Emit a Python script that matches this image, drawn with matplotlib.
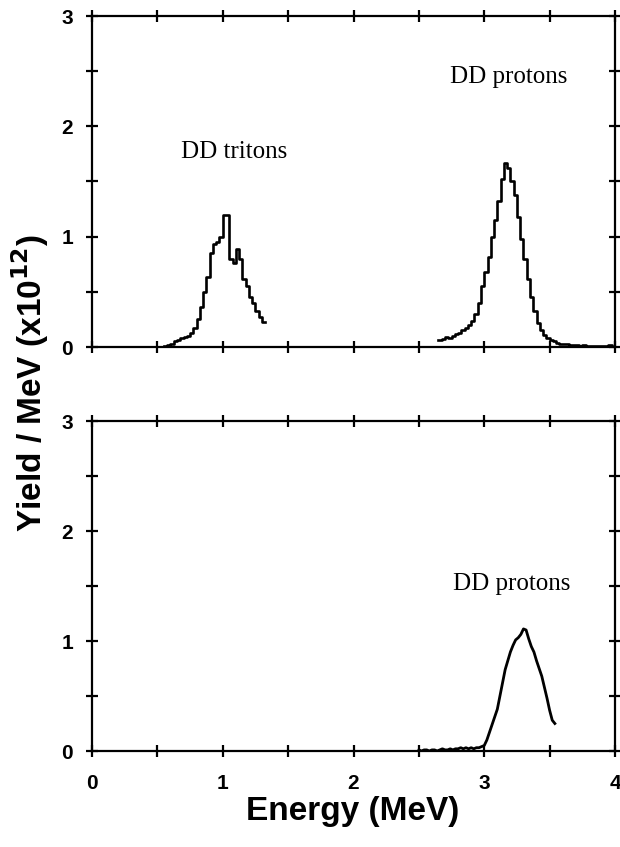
import matplotlib
matplotlib.use("Agg")
import matplotlib.pyplot as plt
from matplotlib.ticker import MultipleLocator

# Top panel: DD triton spectrum (left edge of each 0.025 MeV bin, yield in 1e12/MeV)
triton_e = [0.550, 0.575, 0.600, 0.625, 0.650, 0.675, 0.700, 0.725, 0.750, 0.775,
            0.800, 0.825, 0.850, 0.875, 0.900, 0.925, 0.950, 0.975, 1.000, 1.025,
            1.050, 1.075, 1.100, 1.125, 1.150, 1.175, 1.200, 1.225, 1.250, 1.275,
            1.300, 1.325]
triton_y = [0.01, 0.02, 0.03, 0.05, 0.06, 0.08, 0.09, 0.10, 0.13, 0.17,
            0.25, 0.36, 0.50, 0.63, 0.85, 0.93, 0.95, 1.00, 1.20, 1.20,
            0.80, 0.76, 0.89, 0.80, 0.62, 0.55, 0.45, 0.40, 0.33, 0.27,
            0.23, 0.23]

# Top panel: DD proton spectrum
proton1_e = [2.650, 2.675, 2.700, 2.725, 2.750, 2.775, 2.800, 2.825, 2.850, 2.875,
             2.900, 2.925, 2.950, 2.975, 3.000, 3.025, 3.050, 3.075, 3.100, 3.125,
             3.150, 3.175, 3.200, 3.225, 3.250, 3.275, 3.300, 3.325, 3.350, 3.375,
             3.400, 3.425, 3.450, 3.475, 3.500, 3.525, 3.550, 3.575, 3.600, 3.625,
             3.650, 3.675, 3.700, 3.725, 3.750, 3.775, 3.800, 3.825, 3.850, 3.875,
             3.900, 3.925, 3.950, 3.975]
proton1_y = [0.06, 0.07, 0.09, 0.08, 0.10, 0.12, 0.13, 0.15, 0.17, 0.20,
             0.24, 0.30, 0.40, 0.55, 0.68, 0.82, 1.00, 1.15, 1.32, 1.52,
             1.67, 1.62, 1.50, 1.38, 1.18, 0.98, 0.80, 0.62, 0.45, 0.33,
             0.22, 0.15, 0.11, 0.08, 0.06, 0.05, 0.04, 0.03, 0.03, 0.03,
             0.02, 0.02, 0.02, 0.01, 0.02, 0.01, 0.01, 0.01, 0.01, 0.01,
             0.01, 0.01, 0.02, 0.01]

# Bottom panel: DD proton spectrum (0.02 MeV sampling)
proton2_e = [2.50, 2.52, 2.54, 2.56, 2.58, 2.60, 2.62, 2.64, 2.66, 2.68,
             2.70, 2.72, 2.74, 2.76, 2.78, 2.80, 2.82, 2.84, 2.86, 2.88,
             2.90, 2.92, 2.94, 2.96, 2.98, 3.00, 3.02, 3.04, 3.06, 3.08,
             3.10, 3.12, 3.14, 3.16, 3.18, 3.20, 3.22, 3.24, 3.26, 3.28,
             3.30, 3.32, 3.34, 3.36, 3.38, 3.40, 3.42, 3.44, 3.46, 3.48,
             3.50, 3.52, 3.54]
proton2_y = [0.01, 0.00, 0.01, 0.01, 0.00, 0.01, 0.01, 0.00, 0.01, 0.02,
             0.01, 0.01, 0.02, 0.01, 0.02, 0.02, 0.03, 0.02, 0.03, 0.02,
             0.03, 0.02, 0.03, 0.03, 0.04, 0.05, 0.10, 0.17, 0.24, 0.31,
             0.38, 0.50, 0.62, 0.74, 0.82, 0.90, 0.96, 1.01, 1.03, 1.06,
             1.11, 1.10, 1.02, 0.95, 0.90, 0.82, 0.75, 0.68, 0.58, 0.48,
             0.37, 0.28, 0.25]

x_ticks = [0, 1, 2, 3, 4]
y_ticks = [0, 1, 2, 3]

fig = plt.figure(figsize=(6.2, 8.47), dpi=100)
ax_top = fig.add_axes([92 / 620, 1 - 347 / 847, 523 / 620, 331 / 847])
ax_bot = fig.add_axes([92 / 620, 1 - 751 / 847, 523 / 620, 330 / 847])

ax_top.plot(triton_e, triton_y, color="black", lw=1.9, drawstyle="steps-post")
ax_top.plot(proton1_e, proton1_y, color="black", lw=1.9, drawstyle="steps-post")
ax_bot.plot(proton2_e, proton2_y, color="black", lw=2.0)

serif = dict(family="Liberation Serif", fontsize=18, ha="center", va="center")
ax_top.text(1.09, 1.77, "DD tritons", **serif)
ax_top.text(3.19, 2.45, "DD protons", **serif)
ax_bot.text(3.21, 1.52, "DD protons", **serif)

for ax in (ax_top, ax_bot):
    ax.set_xlim(0, 4)
    ax.set_ylim(0, 3)
    ax.set_xticks(x_ticks)
    ax.set_yticks(y_ticks)
    ax.xaxis.set_minor_locator(MultipleLocator(0.5))
    ax.yaxis.set_minor_locator(MultipleLocator(0.5))
    for s in ax.spines.values():
        s.set_linewidth(1.6)
    ax.tick_params(which="both", direction="inout", length=9, width=1.6,
                   top=True, right=True, labelsize=15)
    ax.tick_params(axis="y", pad=9)
    ax.tick_params(axis="x", pad=12)
    for lab in ax.get_xticklabels() + ax.get_yticklabels():
        lab.set_fontweight("bold")
        lab.set_family("Liberation Sans")

ax_top.tick_params(labelbottom=False)

fig.text(30 / 620, 1 - 383 / 847, "Yield / MeV (x10$^{\\mathbf{12}}$)",
         rotation=90, ha="center", va="center", fontsize=24,
         fontweight="bold", family="Liberation Sans")
fig.text(353 / 620, 1 - 811 / 847, "Energy (MeV)", ha="center", va="center",
         fontsize=24, fontweight="bold", family="Liberation Sans")

fig.savefig("out.png", dpi=100)
